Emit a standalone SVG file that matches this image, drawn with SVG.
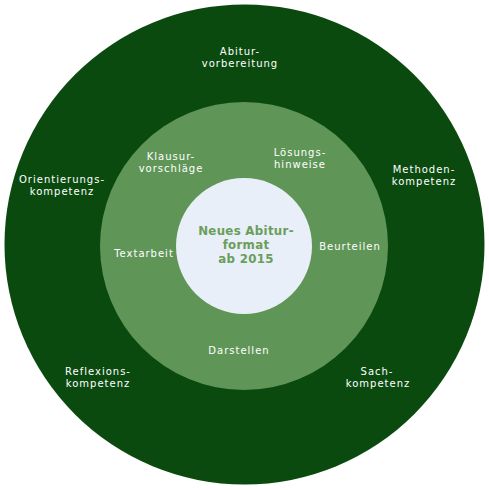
<svg xmlns="http://www.w3.org/2000/svg" width="489" height="490" viewBox="0 0 489 490">
<style>
.lbl{font-family:"DejaVu Sans","Liberation Sans",sans-serif;font-size:10px;fill:#ffffff;text-anchor:middle;letter-spacing:1px}
.ctr{font-family:"DejaVu Sans","Liberation Sans",sans-serif;font-size:11.8px;font-weight:bold;fill:#6a9e5a;text-anchor:middle;letter-spacing:0.3px}
</style>
<rect width="489" height="490" fill="#ffffff"/>
<g id="outer">
<circle cx="244.5" cy="244.5" r="240" fill="#0b4a0f"/>
<text class="lbl" x="240" y="55">Abitur-</text>
<text class="lbl" x="240" y="67">vorbereitung</text>
<text class="lbl" x="62" y="183">Orientierungs-</text>
<text class="lbl" x="62" y="195">kompetenz</text>
<text class="lbl" x="424" y="173">Methoden-</text>
<text class="lbl" x="424" y="185">kompetenz</text>
<text class="lbl" x="98" y="375">Reflexions-</text>
<text class="lbl" x="98" y="387">kompetenz</text>
<text class="lbl" x="377" y="375">Sach-</text>
<text class="lbl" x="378" y="387">kompetenz</text>
</g>
<g id="middle">
<circle cx="244" cy="246" r="144" fill="#5f9657"/>
<text class="lbl" x="171" y="160">Klausur-</text>
<text class="lbl" x="171" y="172">vorschläge</text>
<text class="lbl" x="300" y="156">Lösungs-</text>
<text class="lbl" x="300" y="168">hinweise</text>
<text class="lbl" x="144" y="257">Textarbeit</text>
<text class="lbl" x="350" y="250">Beurteilen</text>
<text class="lbl" x="239" y="354">Darstellen</text>
</g>
<g id="center">
<circle cx="244" cy="246" r="68" fill="#e8eff9"/>
<text class="ctr" x="246" y="235">Neues Abitur-</text>
<text class="ctr" x="246" y="249">format</text>
<text class="ctr" x="246" y="263">ab 2015</text>
</g>
<g id="connectors"/>
</svg>
